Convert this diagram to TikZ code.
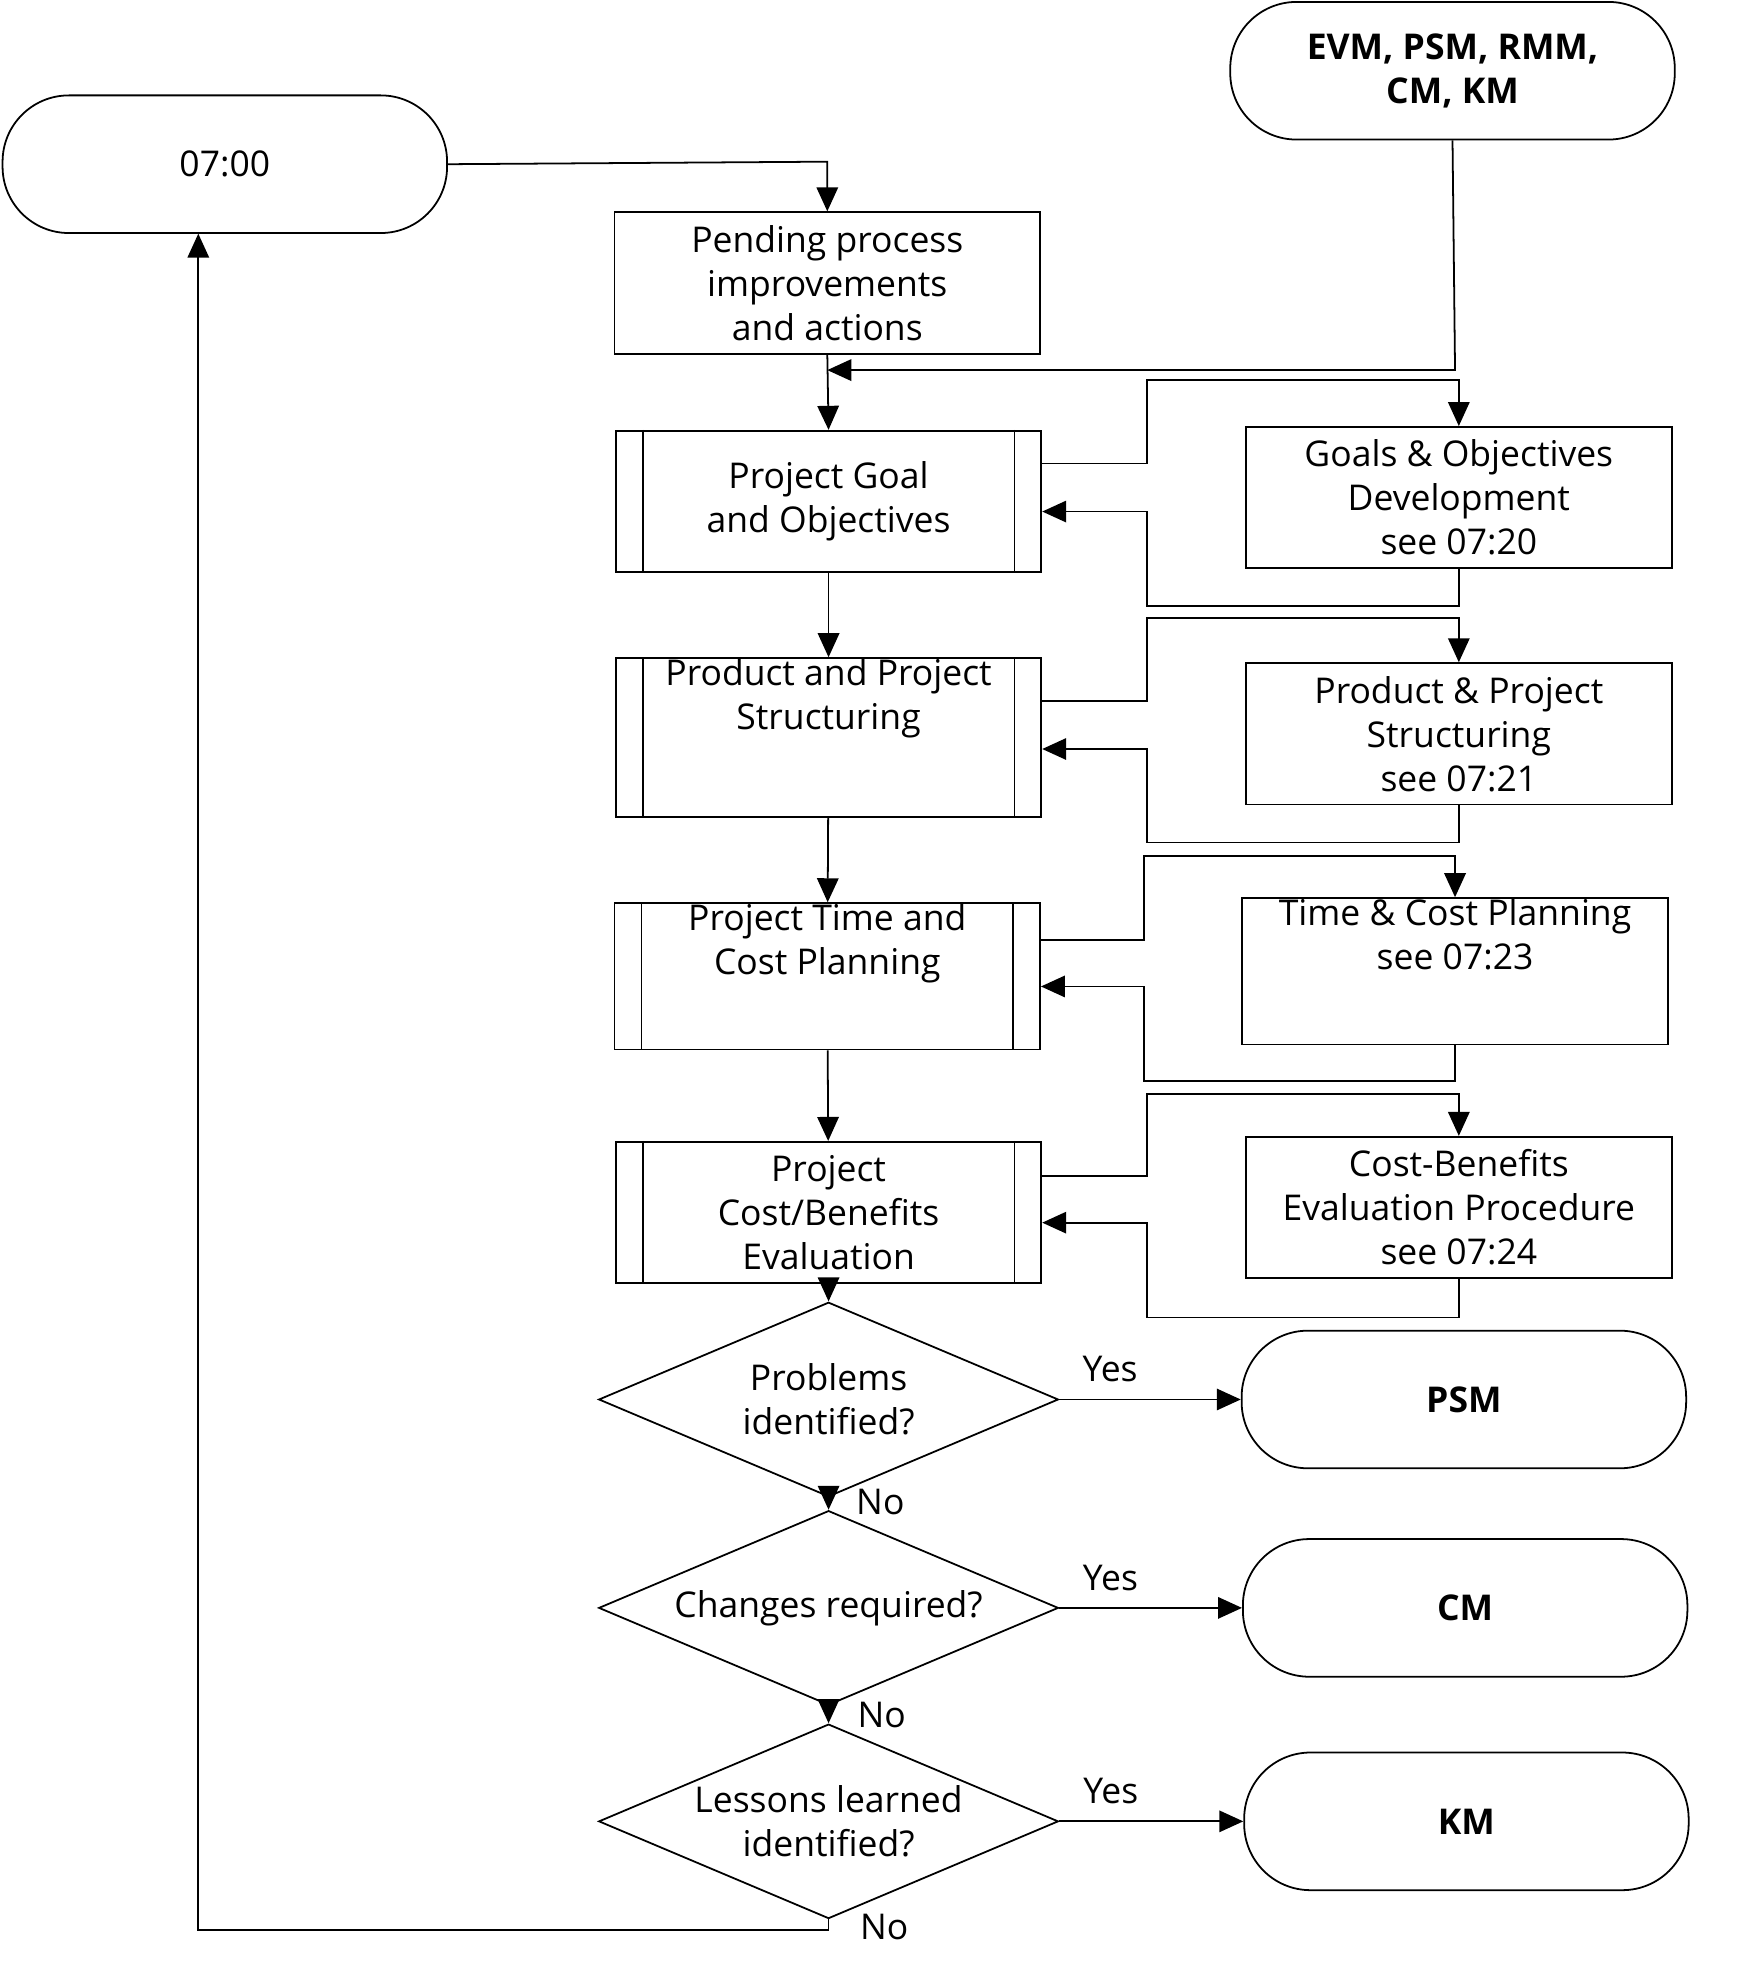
\documentclass[tikz,border=0pt]{standalone}
\usepackage{fontspec}
\setmainfont{Open Sans}
\usetikzlibrary{arrows.meta,shapes.geometric}

\begin{document}
\begin{tikzpicture}[x=0.02cm,y=-0.02cm,
  every node/.style={font=\fontsize{16}{19.8}\selectfont},
  term/.style={draw,thick,rounded corners=1.05cm,minimum width=7.04cm,minimum height=2.18cm,align=center},
  box/.style={draw,thick,minimum width=6.74cm,minimum height=2.24cm,align=center,inner sep=0pt},
  proc/.style={box},
  dia/.style={draw,thick,diamond,minimum width=7.28cm,minimum height=3.08cm,inner sep=0pt},
  lbl/.style={align=center},
  arr/.style={thick,-{Triangle[length=0.38cm,width=0.34cm]}},
  ln/.style={thick}]
\useasboundingbox (0,0) rectangle (1386,1570);
% terminals
\node[term] (start) at (178,130) {07:00};
\node[term,font=\fontsize{16}{19.8}\selectfont\bfseries] (ext) at (1150,56) {EVM, PSM, RMM,\\CM, KM};
\node[term,font=\fontsize{16}{19.8}\selectfont\bfseries] (psm) at (1159,1108) {PSM};
\node[term,font=\fontsize{16}{19.8}\selectfont\bfseries] (cm) at (1160,1273) {CM};
\node[term,font=\fontsize{16}{19.8}\selectfont\bfseries] (km) at (1161,1442) {KM};
% main column
\node[box] (pend) at (655,224) {Pending process\\improvements\\and actions};
\node[proc] (goal) at (656,397) {Project Goal\\and Objectives};
\node[proc] (struc) at (656,584) {Product and Project\\Structuring\\[0.7cm]};
\node[proc] (time) at (655,773) {Project Time and\\Cost Planning\\[0.5cm]};
\node[proc] (cost) at (656,960) {Project\\Cost/Benefits\\Evaluation};
\foreach \n in {goal,struc,time,cost}{
  \draw[ln] ([xshift=0.44cm]\n.north west) -- ([xshift=0.44cm]\n.south west);
  \draw[ln] ([xshift=-0.44cm]\n.north east) -- ([xshift=-0.44cm]\n.south east);
}
% side procedures
\node[box] (sgoal) at (1155,394) {Goals \& Objectives\\Development\\see 07:20};
\node[box] (sstruc) at (1155,581) {Product \& Project\\Structuring\\see 07:21};
\node[box] (stime) at (1152,769) {Time \& Cost Planning\\see 07:23\\[0.5cm]};
\node[box] (scost) at (1155,956) {Cost-Benefits\\Evaluation Procedure\\see 07:24};
% decisions
\node[dia] (d1) at (656,1108) {};
\node[lbl] (t1) at (d1) {Problems\\identified?};
\node[dia] (d2) at (656,1273) {};
\node[lbl] (t2) at (d2) {Changes required?};
\node[dia] (d3) at (656,1442) {};
\node[lbl] (t3) at (d3) {Lessons learned\\identified?};
% flow
\draw[arr] (start.east) -- (655,128) -- (pend.north);
\draw[arr] (ext.south) -- (1152,293) -- (pend.south |- 0,293);
\draw[arr] (pend.south) -- (goal.north);
\draw[arr] (goal) -- (struc);
\draw[arr] (struc) -- (time);
\draw[arr] (time) -- (cost);
\draw[arr] (cost.south) -- (d1.north);
\draw[arr] (d1.south) -- (d2.north);
\draw[arr] (d2.south) -- (d3.north);
% side loops
\draw[arr] (goal.east |- 0,367) -- (908,367) -- (908,301) -- (1155,301) -- (sgoal.north);
\draw[arr] (sgoal.south) -- (1155,480) -- (908,480) -- (908,405) -- (goal.east |- 0,405);
\draw[arr] (struc.east |- 0,555) -- (908,555) -- (908,489) -- (1155,489) -- (sstruc.north);
\draw[arr] (sstruc.south) -- (1155,667) -- (908,667) -- (908,593) -- (struc.east |- 0,593);
\draw[arr] (time.east |- 0,744) -- (906,744) -- (906,678) -- (1152,678) -- (stime.north);
\draw[arr] (stime.south) -- (1152,856) -- (906,856) -- (906,781) -- (time.east |- 0,781);
\draw[arr] (cost.east |- 0,931) -- (908,931) -- (908,866) -- (1155,866) -- (scost.north);
\draw[arr] (scost.south) -- (1155,1043) -- (908,1043) -- (908,968) -- (cost.east |- 0,968);
% decisions out
\draw[arr] (d1.east) -- (psm.west) node[pos=0.28,above=4pt] {Yes};
\draw[arr] (d2.east) -- (cm.west) node[pos=0.28,above=4pt] {Yes};
\draw[arr] (d3.east) -- (km.west) node[pos=0.28,above=4pt] {Yes};
\node (n1) at (697,1189) {No};
\node (n2) at (698,1358) {No};
\node (n3) at (700,1526) {No};
\draw[arr] (d3.south) -- (656,1528) -- (157,1528) -- (157,185);
\end{tikzpicture}
\end{document}
